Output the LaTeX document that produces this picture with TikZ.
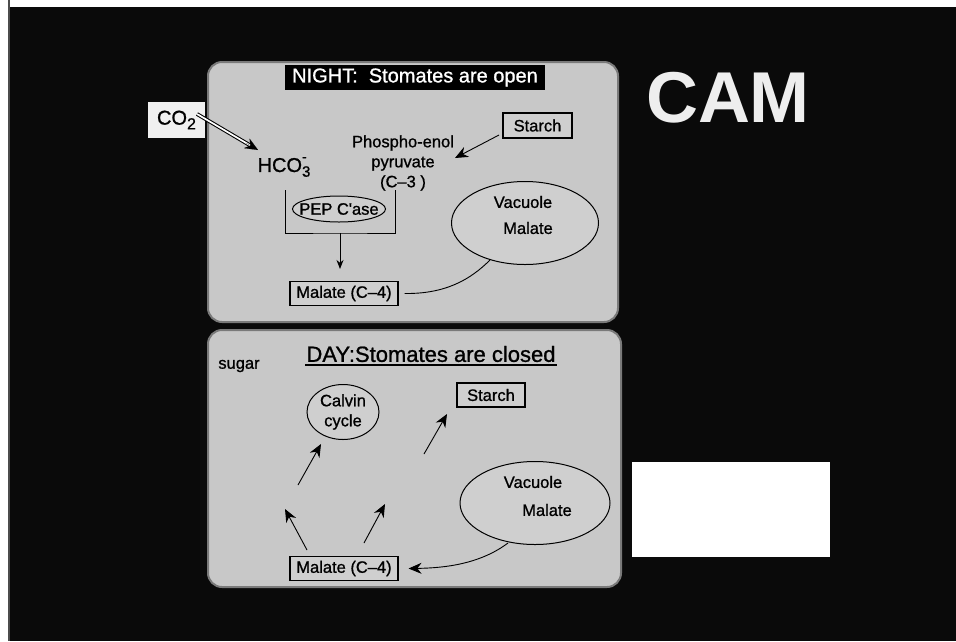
\documentclass[tikz,border=0pt]{standalone}
\usepackage{fontspec}
\setmainfont{Liberation Sans}
\newfontfamily\medfont[FakeBold=1.0,Ligatures=TeX]{Liberation Sans}
\usetikzlibrary{arrows.meta,shapes.geometric,calc}
\definecolor{bg}{HTML}{0A0A0A}
\definecolor{panelfill}{HTML}{C8C8C8}
\definecolor{itemfill}{HTML}{CFCFCF}
\definecolor{edgegray}{HTML}{7A7A7A}
\definecolor{cofill}{HTML}{F0F0F0}
\definecolor{camwhite}{HTML}{EEEEEE}
\begin{document}
\begin{tikzpicture}[x=1pt,y=-1pt,
  panelbox/.style={draw=edgegray, line width=2, fill=panelfill, rounded corners=14, inner sep=0},
  txt/.style={font=\medfont\fontsize{16.5}{20}\selectfont, text=black, inner sep=1, align=center},
  boxitem/.style={txt, draw=black, line width=1.1, fill=itemfill, inner sep=3},
  ellitem/.style={ellipse, draw=black, line width=1.0, fill=itemfill, inner sep=0},
  conn/.style={draw=black, line width=0.9},
  arr/.style={conn, -{Stealth[length=13, width=11]}},
  smallarr/.style={conn, -{Stealth[length=9, width=7]}}
]
% background and margins
\useasboundingbox (0,0) rectangle (956,641);
\fill[white] (0,0) rectangle (956,641);
\fill[bg] (10,7) rectangle (956,641);
\fill[black!70] (8,0) rectangle (10,641);

% panels
\node[panelbox, minimum width=410, minimum height=260] (night) at (413,192) {};
\node[panelbox, minimum width=413, minimum height=257] (day) at (414.5,458.5) {};

% CAM title and white box
\node[anchor=base, text=camwhite, inner sep=0, font=\fontsize{72}{72}\selectfont\bfseries] (cam) at (728,122) {CAM};
\node[fill=white, minimum width=198, minimum height=95, inner sep=0] (blank) at (731,509.5) {};

% ---------- NIGHT ----------
\node[fill=black, text=white, minimum width=260, minimum height=25, inner sep=0,
      font=\medfont\fontsize{20}{20}\selectfont] (ntitle) at (415,77.5) {NIGHT:\ \ Stomates are open};

\node[fill=cofill, minimum width=57, minimum height=36, inner sep=0,
      font=\medfont\fontsize{20}{22}\selectfont] (co2) at (176.5,120)
      {CO\raisebox{-0.45ex}{\fontsize{16}{16}\selectfont 2}};
\node[txt, font=\medfont\fontsize{20}{22}\selectfont] (hco) at (284,167)
      {HCO\rlap{\raisebox{1.0ex}{\fontsize{14}{14}\selectfont -}}\raisebox{-0.45ex}{\fontsize{15}{15}\selectfont 3}};
\coordinate (co2s) at (197,114);
\coordinate (co2e) at (258,150);
\draw[black, line width=3.8, shorten >=6] (co2s) -- (co2e);
\draw[white, line width=1.7, shorten >=6] (co2s) -- (co2e);
\draw[black, line width=0.1, -{Stealth[length=13, width=11]}] ($(co2s)!0.8!(co2e)$) -- (co2e);

\node[txt] (pep) at (403,163) {Phospho-enol\\pyruvate\\(C--3 )};
\node[boxitem, minimum width=69, minimum height=25] (starch1) at (537.5,125.5) {Starch};
\coordinate (st1s) at (499,135);
\coordinate (st1e) at (455,158);
\draw[arr] (st1s) -- (st1e);

% bracket and PEP C'ase
\coordinate (brl) at (285,190);
\coordinate (brr) at (395,190);
\coordinate (brm) at (340,233);
\draw[conn] (brl) |- (brm) -| (brr);
\node[ellitem, minimum width=93, minimum height=26] (pepcase) at (339,209) {};
\node[txt] (pepcaset) at (339,209) {PEP C\textquotesingle ase};
\node[boxitem, minimum width=108, minimum height=24] (mal1) at (344,293.5) {Malate (C--4)};
\draw[smallarr, shorten >=12] (brm) -- (mal1.north -| brm);

\node[ellitem, minimum width=147, minimum height=83] (vac1) at (525,223) {};
\node[txt] (vac1a) at (523,202) {Vacuole};
\node[txt] (vac1b) at (528,228) {Malate};
\coordinate (vac1p) at (490,260);
\draw[conn] ([xshift=6]mal1.east) .. controls (445,294) and (470,280) .. (vac1p);

% ---------- DAY ----------
\node[txt, font=\medfont\fontsize{22}{22}\selectfont] (dtitle) at (431,354) {DAY:Stomates are closed};
\draw[black, line width=1.5] (305,365) -- (557,365);
\node[txt] (sugar) at (239,366) {sugar};

\node[ellitem, minimum width=72, minimum height=55] (calvin) at (343,412) {};
\node[txt] (calvint) at (343,412) {Calvin\\cycle};
\node[boxitem, minimum width=68, minimum height=24] (starch2) at (491,395) {Starch};

\node[ellitem, minimum width=150, minimum height=83] (vac2) at (535,503) {};
\node[txt] (vac2a) at (533,482) {Vacuole};
\node[txt] (vac2b) at (547,510) {Malate};
\node[boxitem, minimum width=108, minimum height=24] (mal2) at (344,568.5) {Malate (C--4)};

\coordinate (a1s) at (298,485); \coordinate (a1e) at (321,444);
\coordinate (a2s) at (424,454); \coordinate (a2e) at (447,414);
\coordinate (a3s) at (307,550); \coordinate (a3e) at (285,509);
\coordinate (a4s) at (364,543); \coordinate (a4e) at (385,504);
\draw[arr] (a1s) -- (a1e);
\draw[arr] (a2s) -- (a2e);
\draw[arr] (a3s) -- (a3e);
\draw[arr] (a4s) -- (a4e);
\coordinate (vac2p) at (508,543);
\draw[arr] (vac2p) .. controls (480,564) and (445,568) .. ([xshift=10]mal2.east);
\end{tikzpicture}
\end{document}
